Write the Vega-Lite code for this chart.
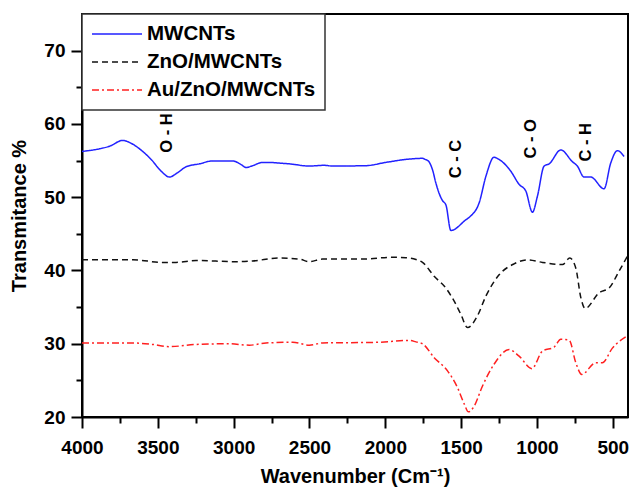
{
  "$schema": "https://vega.github.io/schema/vega-lite/v6.json",
  "width": 546,
  "height": 403,
  "autosize": {"type": "none"},
  "padding": {"left": 82, "top": 14, "right": 3, "bottom": 74},
  "background": "white",
  "config": {
    "view": {"stroke": "black", "strokeWidth": 2},
    "font": "Liberation Sans",
    "axis": {
      "grid": false,
      "labelFlush": false,
      "domainColor": "black",
      "domainWidth": 2,
      "tickColor": "black",
      "tickWidth": 2,
      "labelFont": "Liberation Sans",
      "labelFontWeight": "bold",
      "labelColor": "black",
      "titleFont": "Liberation Sans",
      "titleFontWeight": "bold",
      "titleColor": "black"
    },
    "legend": {
      "orient": "top-left",
      "offset": 0,
      "fillColor": "white",
      "strokeColor": "#333333",
      "strokeWidth": 1.5,
      "padding": 9,
      "rowPadding": 6,
      "symbolType": "M -1 0 H 4",
      "symbolSize": 400,
      "symbolStrokeWidth": 1.5,
      "labelFont": "Liberation Sans",
      "labelFontWeight": "bold",
      "labelFontSize": 20.5,
      "labelColor": "black",
      "labelOffset": 34,
      "labelLimit": 400
    }
  },
  "datasets": {
    "spectra": [
      {"wn": 4000, "t": 56.25, "s": "MWCNTs"},
      {"wn": 3885, "t": 56.6, "s": "MWCNTs"},
      {"wn": 3819, "t": 56.95, "s": "MWCNTs"},
      {"wn": 3731, "t": 57.75, "s": "MWCNTs"},
      {"wn": 3676, "t": 57.35, "s": "MWCNTs"},
      {"wn": 3600, "t": 56.25, "s": "MWCNTs"},
      {"wn": 3544, "t": 55.15, "s": "MWCNTs"},
      {"wn": 3478, "t": 53.55, "s": "MWCNTs"},
      {"wn": 3424, "t": 52.75, "s": "MWCNTs"},
      {"wn": 3369, "t": 53.35, "s": "MWCNTs"},
      {"wn": 3314, "t": 54.15, "s": "MWCNTs"},
      {"wn": 3226, "t": 54.55, "s": "MWCNTs"},
      {"wn": 3138, "t": 54.95, "s": "MWCNTs"},
      {"wn": 3007, "t": 54.95, "s": "MWCNTs"},
      {"wn": 2951, "t": 54.45, "s": "MWCNTs"},
      {"wn": 2918, "t": 54.05, "s": "MWCNTs"},
      {"wn": 2875, "t": 54.3, "s": "MWCNTs"},
      {"wn": 2809, "t": 54.75, "s": "MWCNTs"},
      {"wn": 2765, "t": 54.75, "s": "MWCNTs"},
      {"wn": 2699, "t": 54.65, "s": "MWCNTs"},
      {"wn": 2633, "t": 54.55, "s": "MWCNTs"},
      {"wn": 2501, "t": 54.25, "s": "MWCNTs"},
      {"wn": 2403, "t": 54.35, "s": "MWCNTs"},
      {"wn": 2348, "t": 54.25, "s": "MWCNTs"},
      {"wn": 2128, "t": 54.3, "s": "MWCNTs"},
      {"wn": 1996, "t": 54.75, "s": "MWCNTs"},
      {"wn": 1843, "t": 55.2, "s": "MWCNTs"},
      {"wn": 1755, "t": 55.3, "s": "MWCNTs"},
      {"wn": 1737, "t": 55.15, "s": "MWCNTs"},
      {"wn": 1715, "t": 54.9, "s": "MWCNTs"},
      {"wn": 1689, "t": 53.75, "s": "MWCNTs"},
      {"wn": 1667, "t": 51.95, "s": "MWCNTs"},
      {"wn": 1645, "t": 50.5, "s": "MWCNTs"},
      {"wn": 1625, "t": 49.6, "s": "MWCNTs"},
      {"wn": 1600, "t": 48.9, "s": "MWCNTs"},
      {"wn": 1568, "t": 45.45, "s": "MWCNTs"},
      {"wn": 1470, "t": 46.9, "s": "MWCNTs"},
      {"wn": 1436, "t": 47.45, "s": "MWCNTs"},
      {"wn": 1381, "t": 49.25, "s": "MWCNTs"},
      {"wn": 1337, "t": 52.85, "s": "MWCNTs"},
      {"wn": 1283, "t": 55.45, "s": "MWCNTs"},
      {"wn": 1250, "t": 55.15, "s": "MWCNTs"},
      {"wn": 1173, "t": 53.55, "s": "MWCNTs"},
      {"wn": 1118, "t": 51.75, "s": "MWCNTs"},
      {"wn": 1074, "t": 50.85, "s": "MWCNTs"},
      {"wn": 1030, "t": 47.95, "s": "MWCNTs"},
      {"wn": 997, "t": 50.15, "s": "MWCNTs"},
      {"wn": 953, "t": 54.25, "s": "MWCNTs"},
      {"wn": 920, "t": 54.55, "s": "MWCNTs"},
      {"wn": 843, "t": 56.45, "s": "MWCNTs"},
      {"wn": 767, "t": 54.85, "s": "MWCNTs"},
      {"wn": 734, "t": 54.25, "s": "MWCNTs"},
      {"wn": 690, "t": 52.75, "s": "MWCNTs"},
      {"wn": 646, "t": 52.75, "s": "MWCNTs"},
      {"wn": 558, "t": 51.15, "s": "MWCNTs"},
      {"wn": 514, "t": 54.65, "s": "MWCNTs"},
      {"wn": 470, "t": 56.35, "s": "MWCNTs"},
      {"wn": 426, "t": 55.55, "s": "MWCNTs"},
      {"wn": 4000, "t": 41.45, "s": "ZnO/MWCNTs"},
      {"wn": 3665, "t": 41.45, "s": "ZnO/MWCNTs"},
      {"wn": 3468, "t": 41.1, "s": "ZnO/MWCNTs"},
      {"wn": 3380, "t": 41.1, "s": "ZnO/MWCNTs"},
      {"wn": 3248, "t": 41.35, "s": "ZnO/MWCNTs"},
      {"wn": 2984, "t": 41.2, "s": "ZnO/MWCNTs"},
      {"wn": 2875, "t": 41.3, "s": "ZnO/MWCNTs"},
      {"wn": 2699, "t": 41.7, "s": "ZnO/MWCNTs"},
      {"wn": 2567, "t": 41.55, "s": "ZnO/MWCNTs"},
      {"wn": 2501, "t": 41.2, "s": "ZnO/MWCNTs"},
      {"wn": 2414, "t": 41.55, "s": "ZnO/MWCNTs"},
      {"wn": 2150, "t": 41.55, "s": "ZnO/MWCNTs"},
      {"wn": 1953, "t": 41.8, "s": "ZnO/MWCNTs"},
      {"wn": 1864, "t": 41.75, "s": "ZnO/MWCNTs"},
      {"wn": 1798, "t": 41.5, "s": "ZnO/MWCNTs"},
      {"wn": 1755, "t": 41.1, "s": "ZnO/MWCNTs"},
      {"wn": 1678, "t": 39.2, "s": "ZnO/MWCNTs"},
      {"wn": 1601, "t": 37.6, "s": "ZnO/MWCNTs"},
      {"wn": 1546, "t": 35.8, "s": "ZnO/MWCNTs"},
      {"wn": 1502, "t": 34.0, "s": "ZnO/MWCNTs"},
      {"wn": 1458, "t": 32.2, "s": "ZnO/MWCNTs"},
      {"wn": 1393, "t": 33.8, "s": "ZnO/MWCNTs"},
      {"wn": 1337, "t": 36.5, "s": "ZnO/MWCNTs"},
      {"wn": 1250, "t": 39.4, "s": "ZnO/MWCNTs"},
      {"wn": 1151, "t": 40.9, "s": "ZnO/MWCNTs"},
      {"wn": 1063, "t": 41.45, "s": "ZnO/MWCNTs"},
      {"wn": 964, "t": 41.1, "s": "ZnO/MWCNTs"},
      {"wn": 832, "t": 40.8, "s": "ZnO/MWCNTs"},
      {"wn": 784, "t": 41.7, "s": "ZnO/MWCNTs"},
      {"wn": 744, "t": 40.3, "s": "ZnO/MWCNTs"},
      {"wn": 711, "t": 36.3, "s": "ZnO/MWCNTs"},
      {"wn": 683, "t": 34.8, "s": "ZnO/MWCNTs"},
      {"wn": 591, "t": 36.95, "s": "ZnO/MWCNTs"},
      {"wn": 525, "t": 37.6, "s": "ZnO/MWCNTs"},
      {"wn": 459, "t": 39.9, "s": "ZnO/MWCNTs"},
      {"wn": 405, "t": 41.9, "s": "ZnO/MWCNTs"},
      {"wn": 4000, "t": 30.1, "s": "Au/ZnO/MWCNTs"},
      {"wn": 3665, "t": 30.1, "s": "Au/ZnO/MWCNTs"},
      {"wn": 3534, "t": 29.9, "s": "Au/ZnO/MWCNTs"},
      {"wn": 3424, "t": 29.6, "s": "Au/ZnO/MWCNTs"},
      {"wn": 3248, "t": 29.9, "s": "Au/ZnO/MWCNTs"},
      {"wn": 3028, "t": 30.0, "s": "Au/ZnO/MWCNTs"},
      {"wn": 2897, "t": 29.8, "s": "Au/ZnO/MWCNTs"},
      {"wn": 2787, "t": 30.1, "s": "Au/ZnO/MWCNTs"},
      {"wn": 2611, "t": 30.2, "s": "Au/ZnO/MWCNTs"},
      {"wn": 2501, "t": 29.8, "s": "Au/ZnO/MWCNTs"},
      {"wn": 2414, "t": 30.1, "s": "Au/ZnO/MWCNTs"},
      {"wn": 2040, "t": 30.2, "s": "Au/ZnO/MWCNTs"},
      {"wn": 1843, "t": 30.45, "s": "Au/ZnO/MWCNTs"},
      {"wn": 1798, "t": 30.25, "s": "Au/ZnO/MWCNTs"},
      {"wn": 1755, "t": 30.0, "s": "Au/ZnO/MWCNTs"},
      {"wn": 1678, "t": 28.1, "s": "Au/ZnO/MWCNTs"},
      {"wn": 1590, "t": 26.3, "s": "Au/ZnO/MWCNTs"},
      {"wn": 1524, "t": 24.0, "s": "Au/ZnO/MWCNTs"},
      {"wn": 1480, "t": 21.8, "s": "Au/ZnO/MWCNTs"},
      {"wn": 1452, "t": 20.7, "s": "Au/ZnO/MWCNTs"},
      {"wn": 1414, "t": 21.5, "s": "Au/ZnO/MWCNTs"},
      {"wn": 1360, "t": 24.2, "s": "Au/ZnO/MWCNTs"},
      {"wn": 1283, "t": 27.2, "s": "Au/ZnO/MWCNTs"},
      {"wn": 1184, "t": 29.2, "s": "Au/ZnO/MWCNTs"},
      {"wn": 1118, "t": 28.3, "s": "Au/ZnO/MWCNTs"},
      {"wn": 1034, "t": 26.6, "s": "Au/ZnO/MWCNTs"},
      {"wn": 964, "t": 29.0, "s": "Au/ZnO/MWCNTs"},
      {"wn": 887, "t": 29.55, "s": "Au/ZnO/MWCNTs"},
      {"wn": 843, "t": 30.6, "s": "Au/ZnO/MWCNTs"},
      {"wn": 788, "t": 30.5, "s": "Au/ZnO/MWCNTs"},
      {"wn": 744, "t": 27.4, "s": "Au/ZnO/MWCNTs"},
      {"wn": 705, "t": 25.8, "s": "Au/ZnO/MWCNTs"},
      {"wn": 613, "t": 27.4, "s": "Au/ZnO/MWCNTs"},
      {"wn": 569, "t": 27.4, "s": "Au/ZnO/MWCNTs"},
      {"wn": 503, "t": 29.4, "s": "Au/ZnO/MWCNTs"},
      {"wn": 410, "t": 31.0, "s": "Au/ZnO/MWCNTs"}
    ],
    "labels": [
      {"wn": 3441, "t": 58.75, "txt": "O - H"},
      {"wn": 1535, "t": 55.2, "txt": "C - C"},
      {"wn": 1041, "t": 57.97, "txt": "C - O"},
      {"wn": 679, "t": 57.5, "txt": "C - H"}
    ]
  },
  "layer": [
    {
      "data": {"name": "spectra"},
      "mark": {"type": "line", "strokeWidth": 1.5, "interpolate": "monotone"},
      "encoding": {
        "x": {
          "field": "wn", "type": "quantitative",
          "scale": {"domain": [400, 4000], "reverse": true, "nice": false, "zero": false},
          "axis": {
            "orient": "bottom",
            "values": [4000, 3500, 3000, 2500, 2000, 1500, 1000, 500],
            "format": "d",
            "tickSize": 11,
            "labelFontSize": 19,
            "labelPadding": 10,
            "title": "Wavenumber (Cm⁻¹)",
            "titleFontSize": 20,
            "titlePadding": 9
          }
        },
        "y": {
          "field": "t", "type": "quantitative",
          "scale": {"domain": [20, 75], "nice": false, "zero": false},
          "axis": {
            "orient": "left",
            "values": [20, 30, 40, 50, 60, 70],
            "format": "d",
            "tickSize": 11,
            "labelFontSize": 19,
            "labelPadding": 6,
            "title": "Transmitance %",
            "titleFontSize": 20,
            "titlePadding": 14
          }
        },
        "color": {
          "field": "s", "type": "nominal", "title": null,
          "scale": {"domain": ["MWCNTs", "ZnO/MWCNTs", "Au/ZnO/MWCNTs"], "range": ["#2222ff", "#111111", "#ff2020"]}
        },
        "strokeDash": {
          "field": "s", "type": "nominal", "title": null,
          "scale": {"domain": ["MWCNTs", "ZnO/MWCNTs", "Au/ZnO/MWCNTs"], "range": [[1, 0], [6, 4], [7, 3, 2, 3]]}
        }
      }
    },
    {
      "data": {"name": "labels"},
      "mark": {"type": "text", "angle": 270, "align": "center", "baseline": "middle", "font": "Liberation Sans", "fontWeight": "bold", "fontSize": 16.5, "color": "black"},
      "encoding": {
        "x": {
          "field": "wn", "type": "quantitative",
          "axis": {
            "orient": "bottom",
            "values": [3750, 3250, 2750, 2250, 1750, 1250, 750],
            "tickSize": 6,
            "labels": false,
            "domain": false,
            "title": null
          }
        },
        "y": {
          "field": "t", "type": "quantitative",
          "axis": {
            "orient": "left",
            "values": [25, 35, 45, 55, 65],
            "tickSize": 6,
            "labels": false,
            "domain": false,
            "title": null
          }
        },
        "text": {"field": "txt"}
      }
    }
  ],
  "resolve": {"axis": {"x": "independent", "y": "independent"}}
}
